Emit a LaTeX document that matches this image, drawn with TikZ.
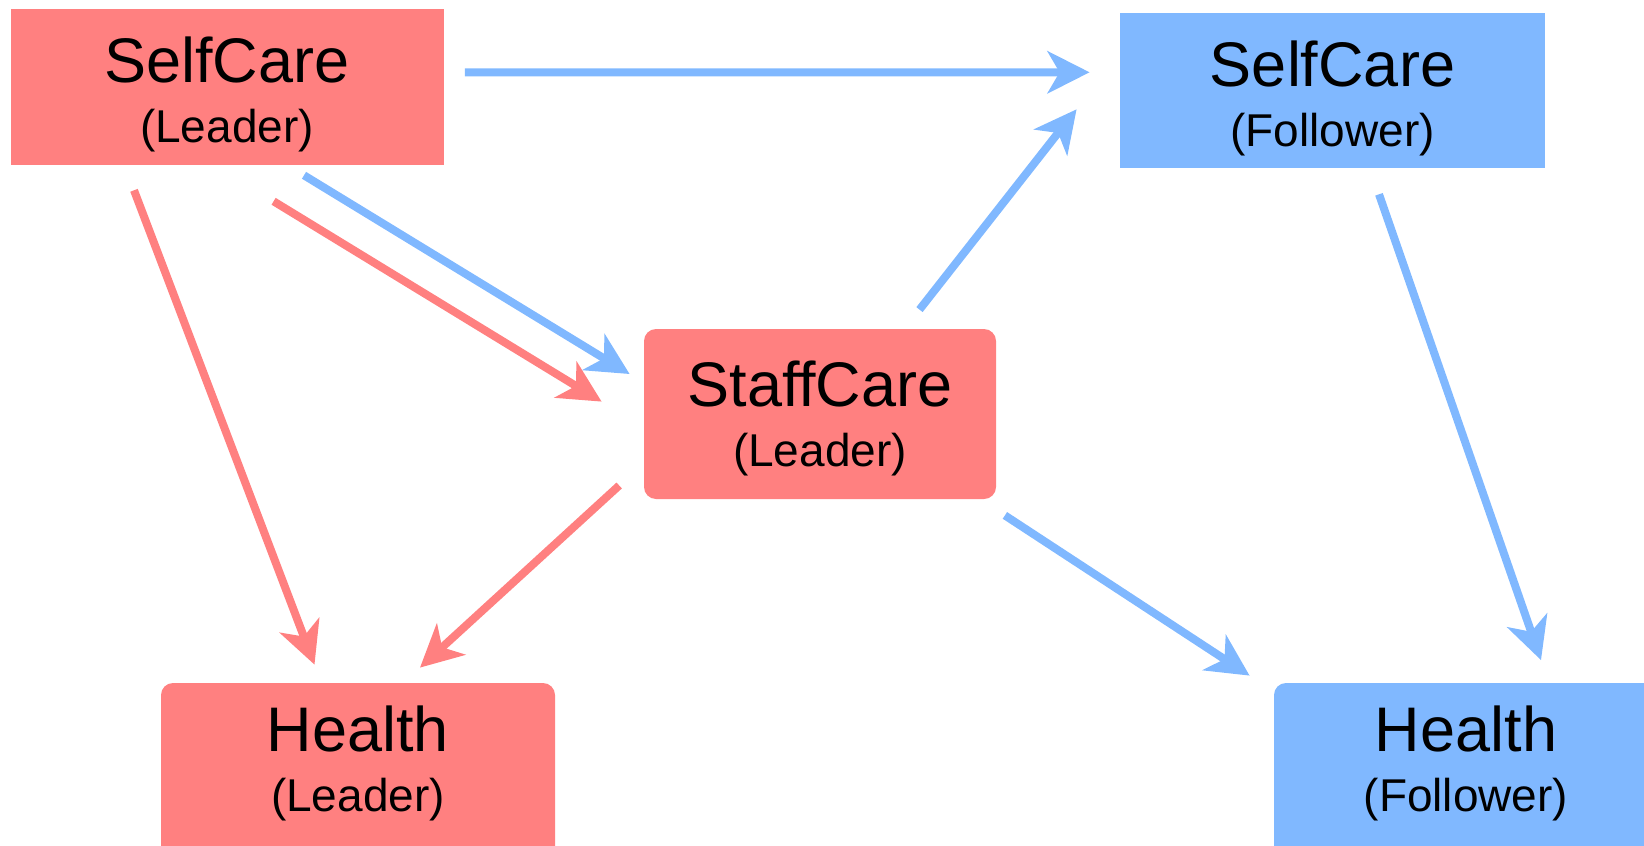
\documentclass[tikz,border=0pt]{standalone}
\usepackage{fontspec}
\setmainfont{Liberation Sans}
\usetikzlibrary{arrows.meta}
\definecolor{leaderred}{RGB}{255,128,128}
\definecolor{followerblue}{RGB}{128,184,255}
\newcommand{\rolename}[1]{{\fontsize{23}{30}\selectfont (#1)}}

\begin{document}
\begin{tikzpicture}[x=0.5pt,y=-0.5pt]
    \clip (0,0) rectangle (1644,846);
    \begin{scope}[every node/.style={align=center,inner sep=0pt,
        font=\fontsize{31.5}{30}\selectfont}]
      \node[fill=leaderred,minimum width=216.5pt,minimum height=78pt] (scl) at (227,86.5) {\rule{0pt}{31pt}SelfCare\\\rolename{Leader}};
      \node[fill=followerblue,minimum width=212.5pt,minimum height=77.5pt] (scf) at (1332.5,90.2) {\rule{0pt}{31pt}SelfCare\\\rolename{Follower}};
      \node[fill=leaderred,rounded corners=6pt,minimum width=176pt,minimum height=85pt] (stl) at (820,414) {\rule{0pt}{27pt}StaffCare\\\rolename{Leader}};
      % bottom boxes run off the page
      \node[fill=leaderred,rounded corners=6pt,minimum width=197pt,minimum height=100pt] (hl) at (358,783) {Health\\\rolename{Leader}\rule[-24.8pt]{0pt}{24.8pt}};
      \node[fill=followerblue,rounded corners=6pt,minimum width=192pt,minimum height=100pt] (hf) at (1466,783) {Health\\\rolename{Follower}\rule[-24.8pt]{0pt}{24.8pt}};
    \end{scope}

    \begin{scope}[>={Stealth[length=21pt,width=21pt,inset=6pt]},line width=4pt]
      % blue paths
      \draw[->,followerblue] ([shift={(21,-14.2)}]scl.east) -- ([shift={(-30,-17.9)}]scf.west);
      \draw[->,followerblue] ([shift={(99.5,-19)}]stl.north) -- ([shift={(-43,-58.8)}]scf.south west);
      \draw[->,followerblue] ([shift={(77,10.4)}]scl.south) -- ([shift={(-14,-40)}]stl.west);
      \draw[->,followerblue] ([shift={(8.5,16)}]stl.south east) -- ([shift={(-24,-7)}]hf.north west);
      \draw[->,followerblue] ([shift={(46.5,26.2)}]scf.south) -- ([shift={(75,-22.5)}]hf.north);
      % red paths
      \draw[->,leaderred] ([shift={(46.6,36.4)}]scl.south) -- ([shift={(-42,-12.4)}]stl.west);
      \draw[->,leaderred] ([shift={(-93,25.4)}]scl.south) -- ([shift={(-43.5,-18)}]hl.north);
      \draw[->,leaderred] ([shift={(-24.4,71.5)}]stl.west) -- ([shift={(62,-15)}]hl.north);
    \end{scope}
\end{tikzpicture}
\end{document}
